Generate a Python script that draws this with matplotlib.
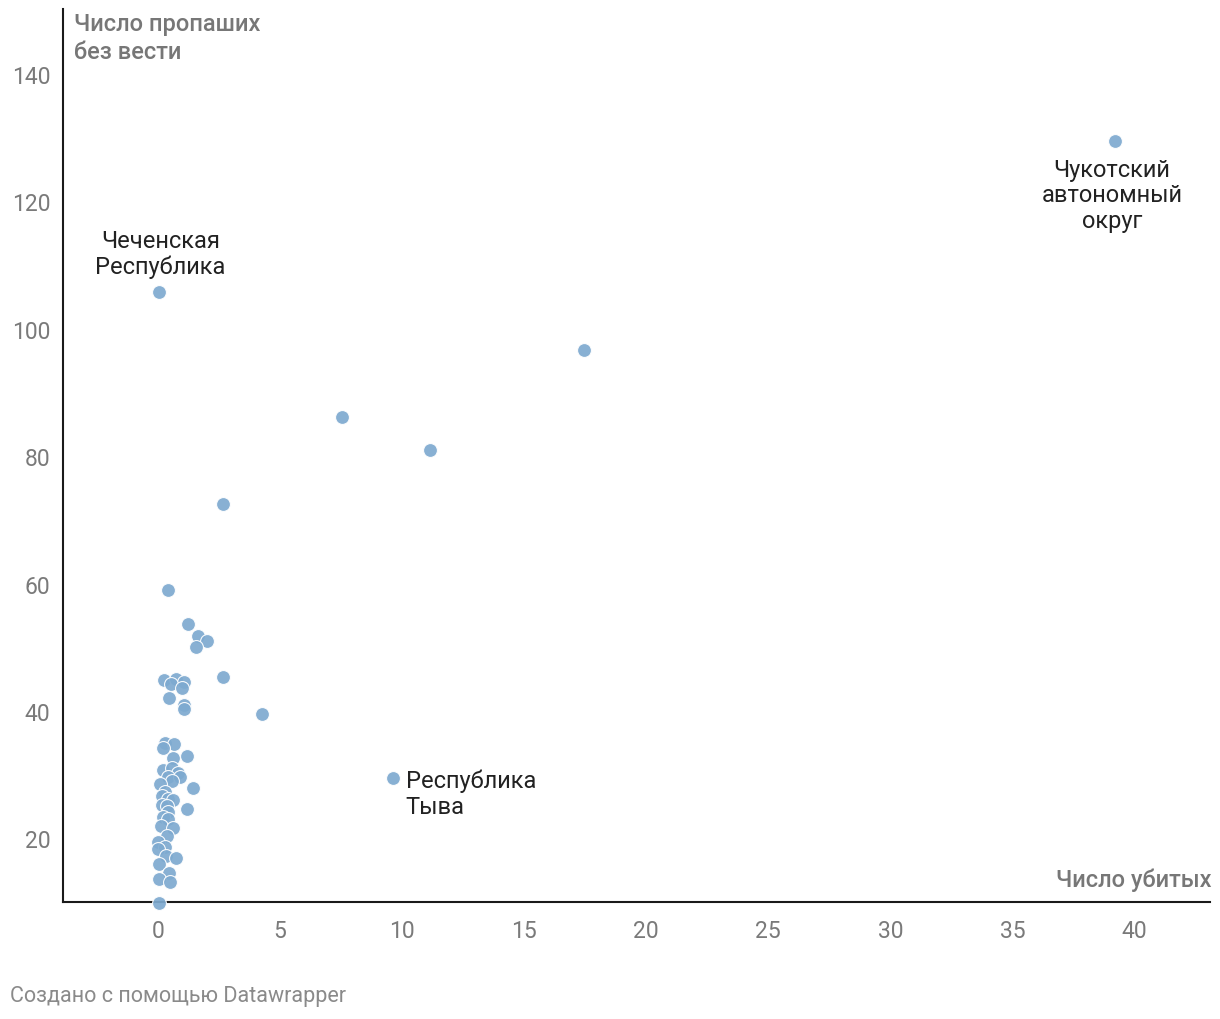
import matplotlib
matplotlib.use("Agg")
import matplotlib.pyplot as plt

plt.rcParams['font.family'] = ['Roboto', 'DejaVu Sans']

# Число убитых (x) и Число пропавших без вести (y)
killed = [39.2, 0.04, 17.46, 7.54, 11.15, 2.66, 0.41, 1.23, 1.64, 2.0, 1.56, 2.66, 4.26, 9.63,
          0.25, 0.74, 1.07, 0.53, 0.98, 0.45, 1.07, 1.07,
          0.29, 0.66, 0.20, 0.61, 1.19, 0.20, 0.57, 0.82, 0.41, 0.90, 0.57, 1.43, 0.08, 0.29,
          0.16, 0.41, 0.61, 0.16, 0.37, 1.19, 0.41, 0.20, 0.41, 0.12, 0.61, 0.37, 0.0, 0.29,
          0.0, 0.33, 0.74, 0.04, 0.45, 0.04, 0.49, 0.04]
missing = [129.5, 105.8, 96.7, 86.2, 81.0, 72.5, 59.0, 53.6, 51.7, 50.9, 50.0, 45.4, 39.5, 29.4,
           44.8, 45.0, 44.5, 44.3, 43.6, 42.0, 41.0, 40.3,
           34.9, 34.8, 34.1, 32.6, 32.9, 30.7, 31.0, 30.2, 29.7, 29.7, 29.0, 27.9, 28.5, 27.2,
           26.6, 26.1, 26.0, 25.3, 25.0, 24.6, 24.2, 23.3, 23.1, 21.9, 21.6, 20.3, 19.4, 18.7,
           18.3, 17.3, 16.9, 15.9, 14.5, 13.6, 13.1, 9.9]

labels = ["Чукотский\nавтономный\nокруг", "Чеченская\nРеспублика", "Республика\nТыва"]
label_x = [39.2, 0.04, 9.63]
label_y = [129.5, 105.8, 29.4]

x_ticks = [0, 5, 10, 15, 20, 25, 30, 35, 40]
y_ticks = [20, 40, 60, 80, 100, 120, 140]

fig = plt.figure(figsize=(12.2, 10.2), dpi=100)
ax = fig.add_axes([63/1220, 1 - 903/1020, (1210 - 63)/1220, (903 - 10)/1020])

ax.scatter(killed, missing, s=100, color='#7eaad0', alpha=0.92, edgecolors='white',
           linewidths=0.8, zorder=3, clip_on=False)

ax.set_xlim(-3.9, 43.1)
ax.set_ylim(10, 150.2)
ax.set_xticks(x_ticks)
ax.set_yticks(y_ticks)
ax.set_xticklabels([str(v) for v in x_ticks])
ax.set_yticklabels([str(v) for v in y_ticks])
ax.tick_params(axis='both', length=0, labelsize=16.5, labelcolor='#7a7a7a')
ax.tick_params(axis='x', pad=12)
ax.tick_params(axis='y', pad=9)

for side in ['top', 'right']:
    ax.spines[side].set_visible(False)
for side in ['left', 'bottom']:
    ax.spines[side].set_color('#1a1a1a')
    ax.spines[side].set_linewidth(1.5)

# Axis titles
fig.text(74/1220, 1 - 13/1020, "Число пропаших\nбез вести", ha='left', va='top',
         fontsize=17, color='#777777', fontweight='medium', linespacing=1.3)
fig.text(1211/1220, 1 - 880/1020, "Число убитых", ha='right', va='center',
         fontsize=17, color='#777777', fontweight='medium')

# Annotations
ax.annotate(labels[0], (label_x[0], label_y[0]), xytext=(-2, -12), textcoords='offset points',
            ha='center', va='top', fontsize=17, color='#222222', linespacing=1.15)
ax.annotate(labels[1], (label_x[1], label_y[1]), xytext=(1, 10), textcoords='offset points',
            ha='center', va='bottom', fontsize=17, color='#222222', linespacing=1.15)
ax.annotate(labels[2], (label_x[2], label_y[2]), xytext=(9, 7), textcoords='offset points',
            ha='left', va='top', fontsize=17, color='#222222', linespacing=1.15)

fig.text(10/1220, 1 - 997/1020, "Создано с помощью Datawrapper", ha='left', va='center',
         fontsize=15.5, color='#8a8a8a')

fig.savefig("out.png", dpi=100)
